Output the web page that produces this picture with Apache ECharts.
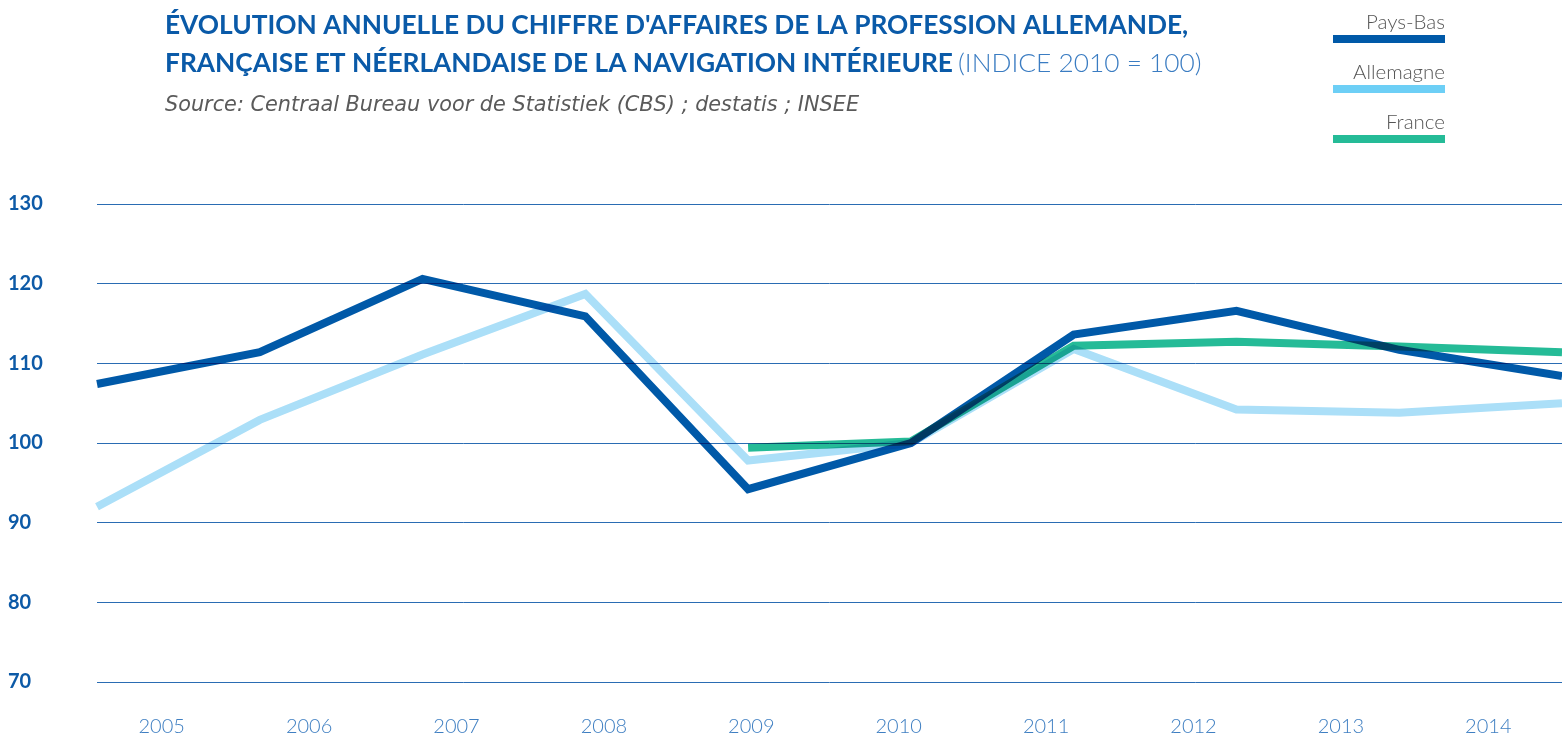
<!DOCTYPE html>
<html>
<head>
<meta charset="utf-8">
<script src="https://cdn.jsdelivr.net/npm/echarts@6/dist/echarts.min.js"></script>
<style>
  html, body { margin: 0; padding: 0; background: #fff; }
  #chart { width: 1562px; height: 737px; }
</style>
</head>
<body>
<div id="chart"></div>
<script>
// années
const years = ['2005', '2006', '2007', '2008', '2009', '2010', '2011', '2012', '2013', '2014']
// indice 2010 = 100
const paysBas = [107.4, 111.4, 120.6, 115.9, 94.2, 100.0, 113.6, 116.6, 111.7, 108.4]
const allemagne = [92.0, 102.9, 111.1, 118.7, 97.8, 100.0, 111.8, 104.2, 103.8, 105.0]
const france = [null, null, null, null, 99.4, 100.2, 112.2, 112.7, 112.1, 111.4]
const yTicks = [70, 80, 90, 100, 110, 120, 130]

const seriesNames = ['Pays-Bas', 'Allemagne', 'France']
const lineColors = ['#0059a8', '#abdff8', '#25bb97']
const legendColors = ['#0059a8', '#6dcff6', '#25bb97']

const chart = echarts.init(document.getElementById('chart'))

// légende en haut à droite (texte au-dessus du trait)
const legendGraphics = []
seriesNames.forEach((name, i) => {
  legendGraphics.push({
    type: 'text',
    right: 1562 - 1445,
    top: 12 + i * 50,
    style: { text: name, font: '300 20.5px Lato', fill: '#555', textAlign: 'right' }
  })
  legendGraphics.push({
    type: 'rect',
    left: 1333,
    top: 35 + i * 50,
    shape: { width: 112, height: 8 },
    style: { fill: legendColors[i] }
  })
})

const option = {
  animation: false,
  title: [
    {
      left: 160,
      top: 2,
      text: '{b|ÉVOLUTION ANNUELLE DU CHIFFRE D\'AFFAIRES DE LA PROFESSION ALLEMANDE,}\n{b|FRANÇAISE ET NÉERLANDAISE DE LA NAVIGATION INTÉRIEURE} {l|(INDICE 2010 = 100)}',
      textStyle: {
        rich: {
          b: { fontFamily: 'Lato', fontWeight: 'bold', fontSize: 26.3, color: '#0a5aa8', lineHeight: 38 },
          l: { fontFamily: 'Lato', fontWeight: 300, fontSize: 26.3, color: '#3a7cc2', lineHeight: 38 }
        }
      }
    },
    {
      left: 160,
      top: 90,
      text: 'Source: Centraal Bureau voor de Statistiek (CBS) ; destatis ; INSEE',
      textStyle: { fontFamily: 'DejaVu Sans', fontStyle: 'italic', fontWeight: 200, fontSize: 20.8, color: '#5a5a5a' }
    }
  ],
  graphic: legendGraphics,
  grid: [
    { left: 97, right: 0, top: 204, bottom: 55 },
    { left: 88, right: 0, top: 204, bottom: 55 }
  ],
  xAxis: [
    {
      type: 'category',
      gridIndex: 0,
      data: years,
      boundaryGap: false,
      axisLine: { show: false },
      axisTick: { show: false },
      axisLabel: { show: false },
      splitLine: { show: false }
    },
    {
      type: 'category',
      gridIndex: 1,
      data: years,
      boundaryGap: true,
      axisLine: { show: false },
      axisTick: { show: false },
      axisLabel: {
        margin: 36,
        fontFamily: 'Lato',
        fontWeight: 300,
        fontSize: 20,
        color: '#3f7fc2'
      }
    }
  ],
  yAxis: [
    {
      type: 'value',
      gridIndex: 0,
      min: yTicks[0],
      max: yTicks[yTicks.length - 1],
      interval: 10,
      axisLine: { show: false },
      axisTick: { show: false },
      axisLabel: {
        align: 'left',
        margin: 89,
        fontFamily: 'Lato',
        fontWeight: 'bold',
        fontSize: 20,
        color: '#0d5aa7'
      },
      splitLine: { lineStyle: { color: '#2a6cb3', width: 1 } }
    },
    {
      type: 'value',
      gridIndex: 1,
      show: false,
      min: yTicks[0],
      max: yTicks[yTicks.length - 1]
    }
  ],
  series: [
    {
      name: seriesNames[1],
      type: 'line',
      data: allemagne,
      showSymbol: false,
      blendMode: 'multiply',
      lineStyle: { color: lineColors[1], width: 8, join: 'miter', cap: 'butt' }
    },
    {
      name: seriesNames[2],
      type: 'line',
      data: france,
      showSymbol: false,
      blendMode: 'multiply',
      lineStyle: { color: lineColors[2], width: 8, join: 'miter', cap: 'butt' }
    },
    {
      name: seriesNames[0],
      type: 'line',
      data: paysBas,
      showSymbol: false,
      blendMode: 'multiply',
      lineStyle: { color: lineColors[0], width: 8, join: 'miter', cap: 'butt' }
    }
  ]
}

chart.setOption(option)
</script>
</body>
</html>
